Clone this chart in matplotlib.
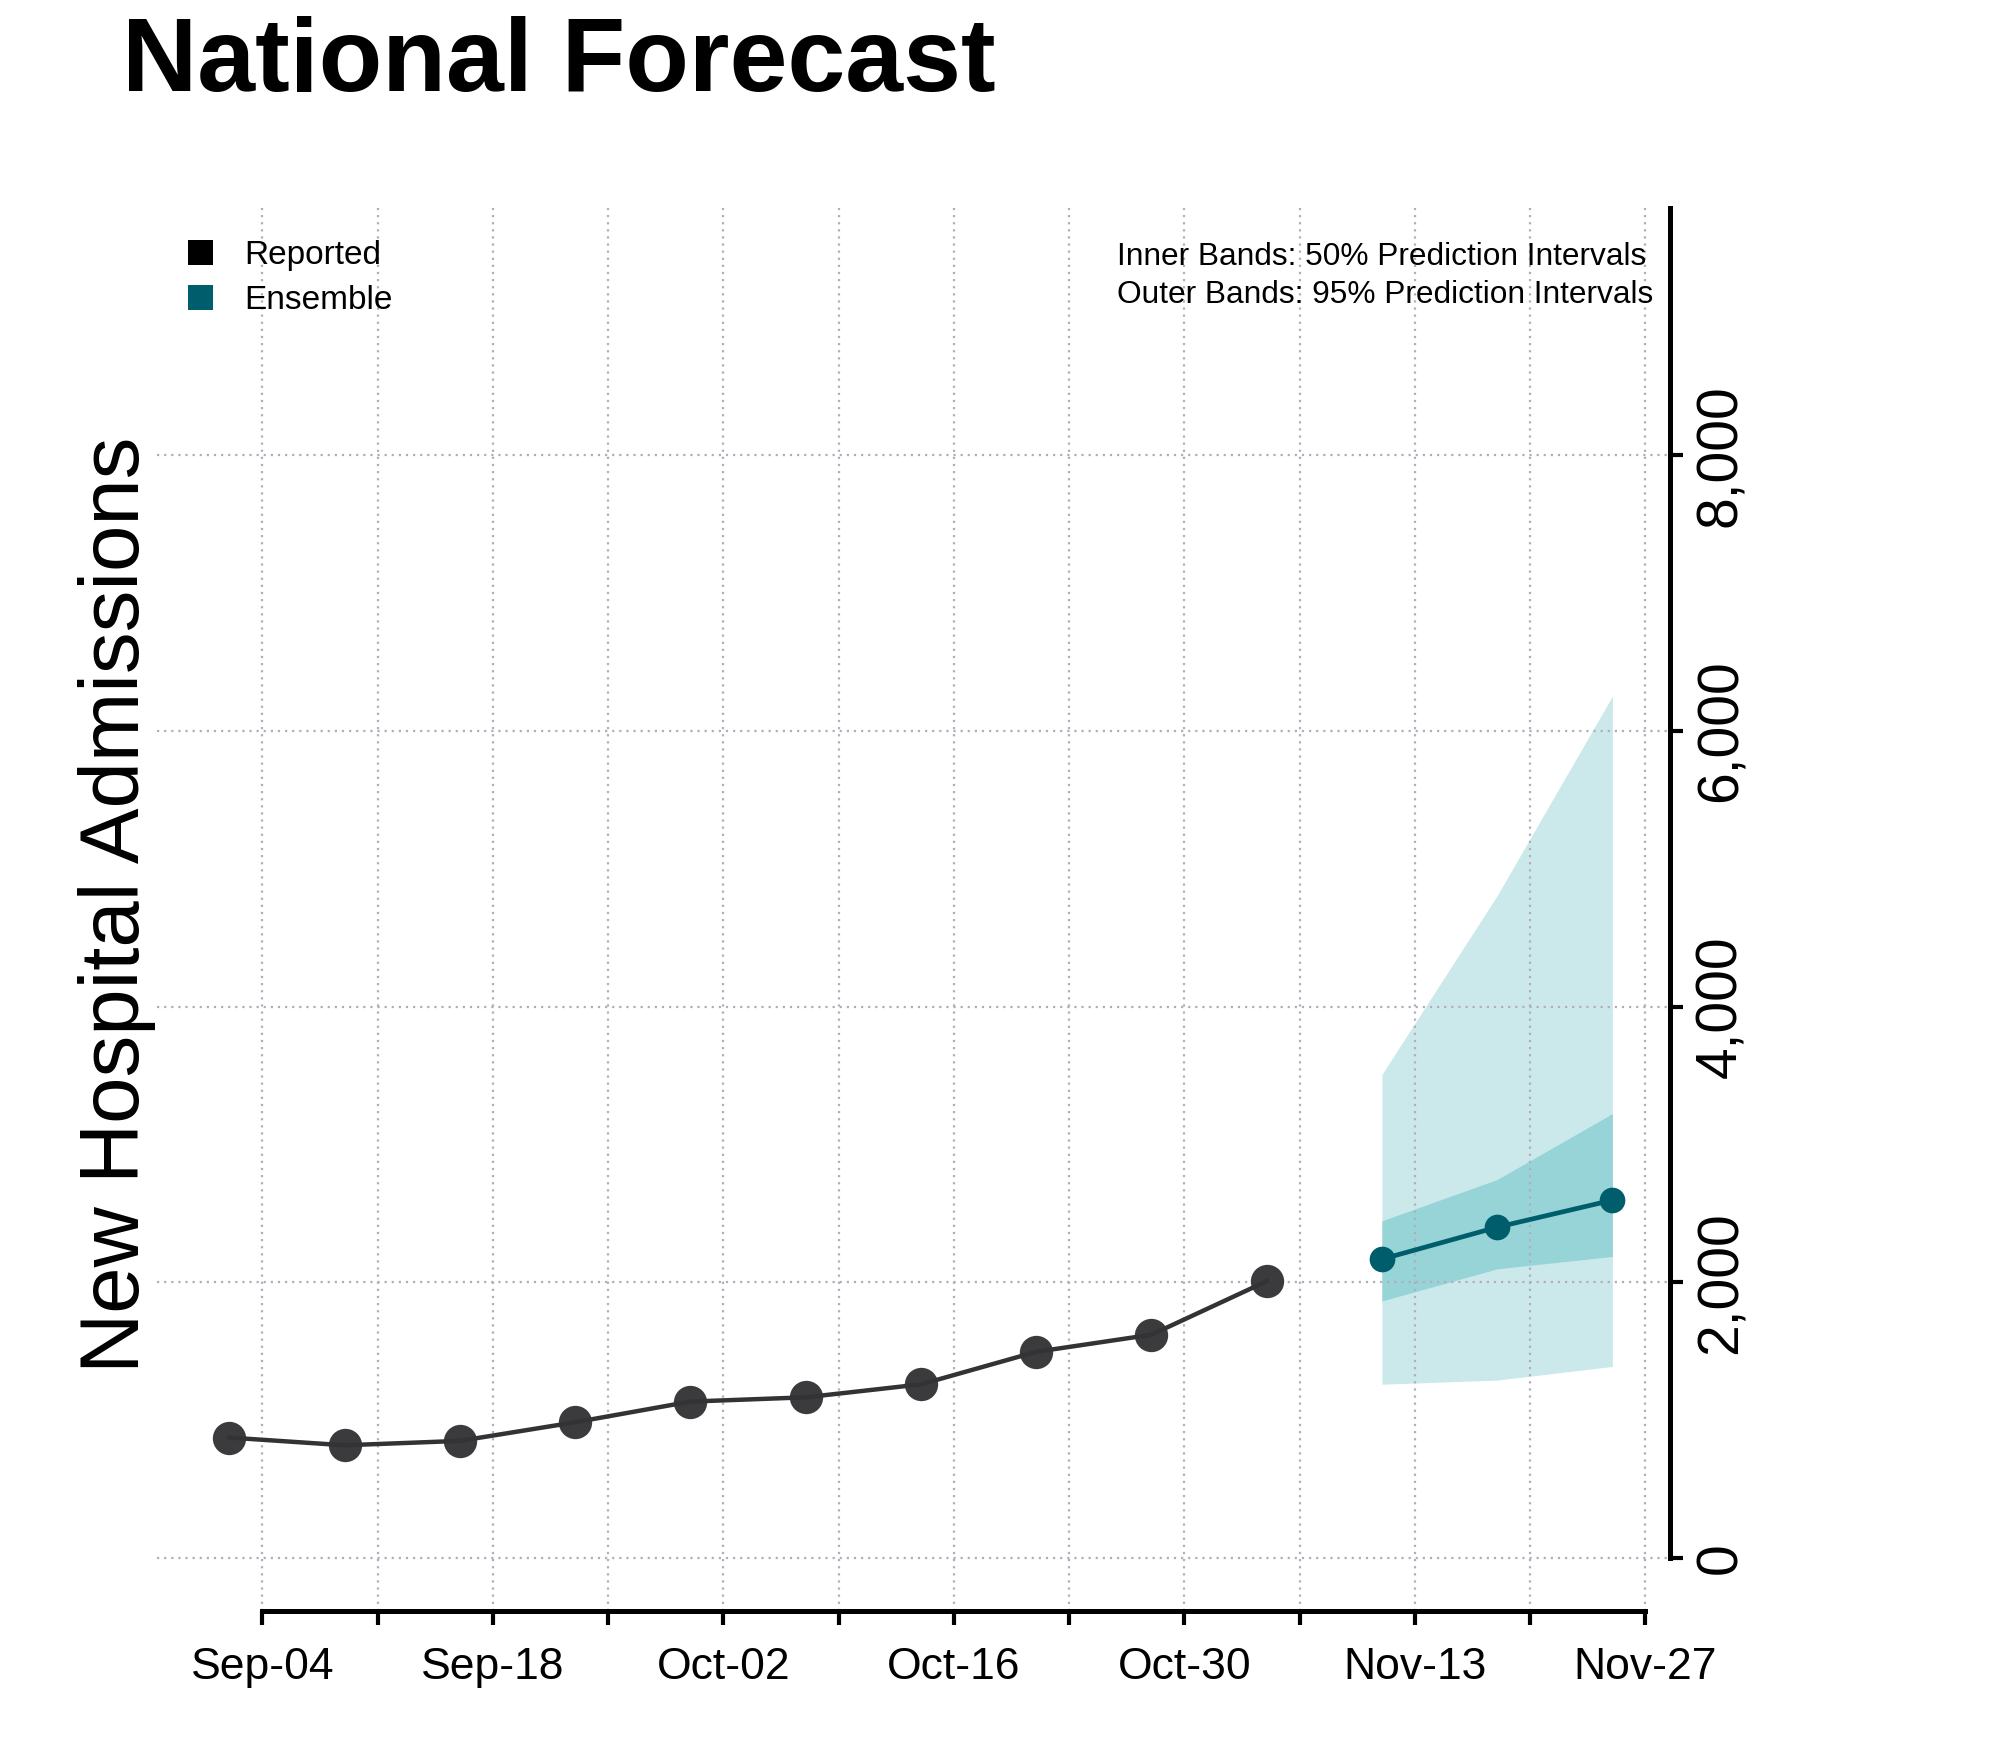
import datetime as dt
import matplotlib
matplotlib.use("Agg")
import matplotlib.pyplot as plt
import matplotlib.dates as mdates
from matplotlib.lines import Line2D

plt.rcParams['font.family'] = ['Liberation Sans', 'DejaVu Sans']

# ---------------- data ----------------
reported_dates = ["2023-09-02", "2023-09-09", "2023-09-16", "2023-09-23", "2023-09-30",
                  "2023-10-07", "2023-10-14", "2023-10-21", "2023-10-28", "2023-11-04"]
reported_values = [874, 818, 850, 985, 1135, 1166, 1260, 1496, 1620, 2008]

forecast_dates = ["2023-11-11", "2023-11-18", "2023-11-25"]
forecast_median = [2168, 2400, 2596]
pi50_lower = [1865, 2098, 2188]
pi50_upper = [2446, 2746, 3224]
pi95_lower = [1261, 1291, 1390]
pi95_upper = [3508, 4805, 6252]

xtick_dates = ["2023-09-04", "2023-09-11", "2023-09-18", "2023-09-25", "2023-10-02",
               "2023-10-09", "2023-10-16", "2023-10-23", "2023-10-30", "2023-11-06",
               "2023-11-13", "2023-11-20", "2023-11-27"]
xtick_labels = ["Sep-04", "", "Sep-18", "", "Oct-02", "", "Oct-16", "", "Oct-30", "",
                "Nov-13", "", "Nov-27"]
ytick_values = [0, 2000, 4000, 6000, 8000]
ytick_labels = ["0", "2,000", "4,000", "6,000", "8,000"]

legend_labels = ["Reported", "Ensemble"]
band_notes = ["Inner Bands: 50% Prediction Intervals",
              "Outer Bands: 95% Prediction Intervals"]

# ---------------- styling ----------------
C_REP = '#3b3a3c'
C_REP_LINE = '#333234'
C_ENS = '#005e6c'
C_95 = '#cbe9eb'
C_50 = '#97d4d7'
C_GRID = '#b3acbb'

def to_num(ds):
    return [mdates.date2num(dt.datetime.strptime(d, "%Y-%m-%d")) for d in ds]

rx = to_num(reported_dates)
fx = to_num(forecast_dates)
tx = to_num(xtick_dates)

fig = plt.figure(figsize=(20, 17.5), dpi=100)
ax = fig.add_axes([157/2000, (1750-1611)/1750, (1670-157)/2000, (1611-208)/1750])

ax.set_xlim(tx[0] - 6.4, tx[-1] + 1.5)
ax.set_ylim(-384, 9793)

# bands
ax.fill_between(fx, pi95_lower, pi95_upper, color=C_95, lw=0, zorder=1)
ax.fill_between(fx, pi50_lower, pi50_upper, color=C_50, lw=0, zorder=1.1)

# grid
ax.set_axisbelow('line')
ax.grid(True, axis='both', color=C_GRID, linestyle=(0, (1, 2.2)), linewidth=1.6)

# reported
ax.plot(rx, reported_values, ls='', marker='o', ms=24, color=C_REP, mew=0, zorder=3)
ax.plot(rx, reported_values, ls='-', lw=3.2, color=C_REP_LINE, zorder=3.5)

# forecast
ax.plot(fx, forecast_median, ls='-', lw=3.4, marker='o', ms=18.5, color=C_ENS, mew=0, zorder=4)

# axes
ax.set_xticks(tx)
ax.set_xticklabels(xtick_labels)
ax.set_yticks(ytick_values)
ax.set_yticklabels(ytick_labels)

for s in ['left', 'top']:
    ax.spines[s].set_visible(False)
ax.spines['bottom'].set_linewidth(3.6)
ax.spines['right'].set_linewidth(3.6)
ax.spines['bottom'].set_bounds(tx[0], tx[-1])
ax.spines['right'].set_bounds(0, 9793)
ax.spines['bottom'].set_capstyle('projecting')

ax.yaxis.tick_right()
ax.tick_params(axis='x', direction='out', length=10, width=3, labelsize=32, pad=16)
ax.tick_params(axis='y', direction='out', length=9.5, width=3, labelsize=41, pad=8,
               labelrotation=90, right=True, left=False)
for lab in ax.get_yticklabels():
    lab.set_va('center')

# legend
handles = [Line2D([], [], ls='', marker='s', ms=18, mew=0, color='black'),
           Line2D([], [], ls='', marker='s', ms=18, mew=0, color=C_ENS)]
ax.legend(handles, legend_labels, loc='upper left', bbox_to_anchor=(183/2000, 1 - 240/1750),
          bbox_transform=fig.transFigure, frameon=False, fontsize=24, handlelength=1.0,
          handletextpad=0.85, borderpad=0, borderaxespad=0, labelspacing=0.42)

# band notes
fig.text(1117/2000, 1 - 265/1750, band_notes[0], fontsize=22.8, ha='left', va='baseline')
fig.text(1117/2000, 1 - 303/1750, band_notes[1], fontsize=22.8, ha='left', va='baseline')

# titles
fig.text(122/2000, 1 - 91/1750, "National Forecast", fontsize=75, fontweight='bold',
         ha='left', va='baseline')
fig.text(117/2000, 1 - 905/1750, "New Hospital Admissions", fontsize=60, rotation=90,
         ha='center', va='center')

fig.savefig("out.png", dpi=100, facecolor='white')
